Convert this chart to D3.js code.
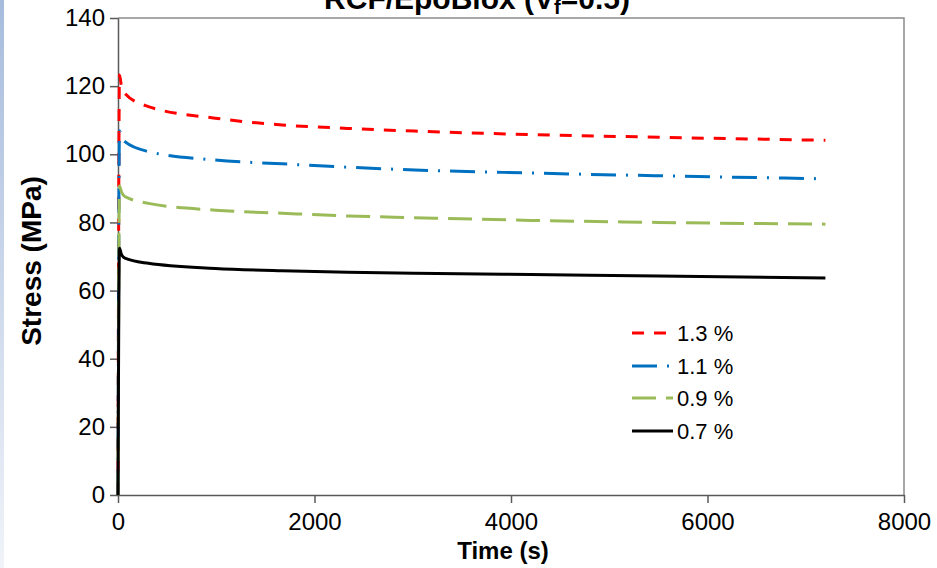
<!DOCTYPE html>
<html>
<head>
<meta charset="utf-8">
<script src="https://cdn.jsdelivr.net/npm/d3@7/dist/d3.min.js"></script>
<style>
  html, body { margin: 0; padding: 0; background: #fff; }
  svg { display: block; font-family: "Liberation Sans", Arial, sans-serif; }
</style>
</head>
<body>
<div id="chart"></div>
<script>
// time points (s)
const times = [0, 15, 35, 70, 310, 990, 1670, 2340, 3020, 4200, 5500, 7200];

// stress (MPa) for each strain level
const s13 = [0, 123.3, 120.0, 117.9, 114.0, 110.6, 108.6, 107.6, 106.8, 105.8, 105.0, 104.1];
const s11 = [0, 106.9, 105.0, 103.7, 100.8, 98.3, 97.2, 96.2, 95.4, 94.5, 93.7, 92.8];
const s09 = [0, 90.7, 89.0, 87.6, 85.6, 83.6, 82.7, 81.9, 81.4, 80.6, 80.0, 79.5];
const s07 = [0, 72.4, 70.6, 69.5, 68.0, 66.5, 65.8, 65.4, 65.1, 64.7, 64.3, 63.7];

const seriesNames = ['1.3 %', '1.1 %', '0.9 %', '0.7 %'];
const seriesValues = [s13, s11, s09, s07];
const seriesColors = ['#ff0000', '#0070c0', '#9bbb59', '#000000'];
const seriesDash = ['12,10', '25,10,2,10', '24,10', null];

const xTicks = [0, 2000, 4000, 6000, 8000];
const yTicks = [0, 20, 40, 60, 80, 100, 120, 140];

const width = 937, height = 568;
const svg = d3.select('#chart').append('svg')
    .attr('width', width)
    .attr('height', height);

// slide edge strip on the left
const grad = svg.append('defs').append('linearGradient')
    .attr('id', 'edge')
    .attr('x1', 0).attr('y1', 0).attr('x2', 0).attr('y2', 1);
grad.append('stop').attr('offset', '0%').attr('stop-color', '#a7bcdd');
grad.append('stop').attr('offset', '100%').attr('stop-color', '#f0f3f9');
svg.append('rect')
    .attr('x', 0).attr('y', 0)
    .attr('width', 4).attr('height', height)
    .attr('fill', 'url(#edge)');

const x = d3.scaleLinear().domain([0, 8000]).range([118, 904]);
const y = d3.scaleLinear().domain([0, 140]).range([495, 18]);

// frame (top and right)
svg.append('path')
    .attr('d', `M${x(0)},${y(140)}H${x(8000)}V${y(0)}`)
    .attr('fill', 'none')
    .attr('stroke', '#8a8a8a')
    .attr('stroke-width', 1.5);

// axes
const xAxis = svg.append('g')
    .attr('transform', `translate(0,${y(0)})`)
    .call(d3.axisBottom(x).tickValues(xTicks).tickFormat(d3.format('d'))
        .tickSize(8).tickSizeOuter(0).tickPadding(10));
const yAxis = svg.append('g')
    .attr('transform', `translate(${x(0)},0)`)
    .call(d3.axisLeft(y).tickValues(yTicks).tickFormat(d3.format('d'))
        .tickSize(8).tickSizeOuter(0).tickPadding(5));

[xAxis, yAxis].forEach(function (a) {
    a.select('.domain').attr('stroke', '#5a5a5a').attr('stroke-width', 1.5);
    a.selectAll('.tick line').attr('stroke', '#5a5a5a').attr('stroke-width', 1.5);
    a.selectAll('.tick text')
        .attr('fill', '#000')
        .style('font-size', '24px')
        .style('font-family', '"Liberation Sans", Arial, sans-serif');
});

// axis titles
svg.append('text')
    .attr('x', 503)
    .attr('y', 559)
    .attr('text-anchor', 'middle')
    .style('font-size', '24px')
    .style('font-weight', 'bold')
    .text('Time (s)');

svg.append('text')
    .attr('transform', 'translate(41,261) rotate(-90)')
    .attr('text-anchor', 'middle')
    .style('font-size', '28px')
    .style('font-weight', 'bold')
    .text('Stress (MPa)');

// chart title, cut at the top of the picture as in the source
const title = svg.append('text')
    .attr('x', 477)
    .attr('y', 9)
    .attr('text-anchor', 'middle')
    .style('font-size', '30px')
    .style('font-weight', 'bold');
title.append('tspan').text('RCF/EpoBiox (V');
title.append('tspan').attr('dy', 5).style('font-size', '20px').text('f');
title.append('tspan').attr('dy', -5).text('=0.5)');

// curves
const line = d3.line()
    .x(function (d) { return x(d[0]); })
    .y(function (d) { return y(d[1]); })
    .curve(d3.curveMonotoneX);

seriesValues.forEach(function (vals, i) {
    const pts = times.map(function (t, j) { return [t, vals[j]]; });
    svg.append('path')
        .datum(pts)
        .attr('d', line)
        .attr('fill', 'none')
        .attr('stroke', seriesColors[i])
        .attr('stroke-width', 3)
        .attr('stroke-dasharray', seriesDash[i]);
});

// legend
const legend = svg.append('g');
const legendY = [333, 366, 398, 431];
seriesNames.forEach(function (name, i) {
    legend.append('line')
        .attr('x1', 632).attr('x2', 673)
        .attr('y1', legendY[i]).attr('y2', legendY[i])
        .attr('stroke', seriesColors[i])
        .attr('stroke-width', 3)
        .attr('stroke-dasharray', seriesDash[i]);
    legend.append('text')
        .attr('x', 677)
        .attr('y', legendY[i])
        .attr('dy', '0.35em')
        .style('font-size', '22px')
        .text(name);
});
</script>
</body>
</html>
